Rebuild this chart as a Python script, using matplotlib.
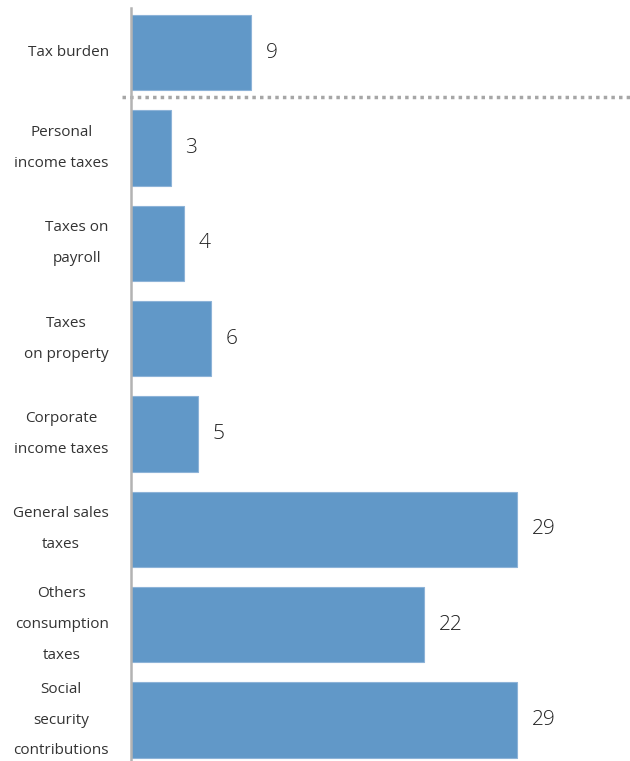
import matplotlib
matplotlib.use("Agg")
import matplotlib.pyplot as plt

categories = [
    "Tax burden",
    "Personal\nincome taxes",
    "Taxes on\npayroll",
    "Taxes\non property",
    "Corporate\nincome taxes",
    "General sales\ntaxes",
    "Others\nconsumption\ntaxes",
    "Social\nsecurity\ncontributions",
]
values = [9, 3, 4, 6, 5, 29, 22, 29]


def main():
    plt.rcParams["font.family"] = ["Open Sans", "DejaVu Sans"]

    fig = plt.figure(figsize=(6.3, 7.61), dpi=100)
    ax = fig.add_axes([131 / 630, 0.0, 499 / 630, 753 / 761])

    pos = list(range(len(categories)))
    ax.barh(pos, values, height=0.79, color="#6198c8",
            edgecolor="#8db3d8", linewidth=0.8)

    for y, v in zip(pos, values):
        ax.text(v + 1.1, y, str(v), va="center", ha="left",
                fontsize=15, color="#222222", fontweight="light")

    ax.set_xlim(0, 37.5)
    ax.set_ylim(7.43, -0.47)

    ax.set_yticks(pos)
    ax.set_yticklabels(categories, fontsize=11, color="#333333",
                       multialignment="center", linespacing=2.45)
    for lbl in ax.get_yticklabels():
        lbl.set_va("center")
    ax.tick_params(axis="y", length=0, pad=16)
    ax.set_xticks([])

    for side in ["top", "right", "bottom"]:
        ax.spines[side].set_visible(False)
    ax.spines["left"].set_color("#b3b3b3")
    ax.spines["left"].set_linewidth(1.8)

    # separator between the total and its components
    ax.plot([-0.7, 37.5], [0.46, 0.46], linestyle=(0, (1, 1.2)),
            color="#a6a6a6", linewidth=2.5, clip_on=False)

    fig.savefig("out.png", dpi=100)
    plt.close(fig)


if __name__ == "__main__":
    main()
